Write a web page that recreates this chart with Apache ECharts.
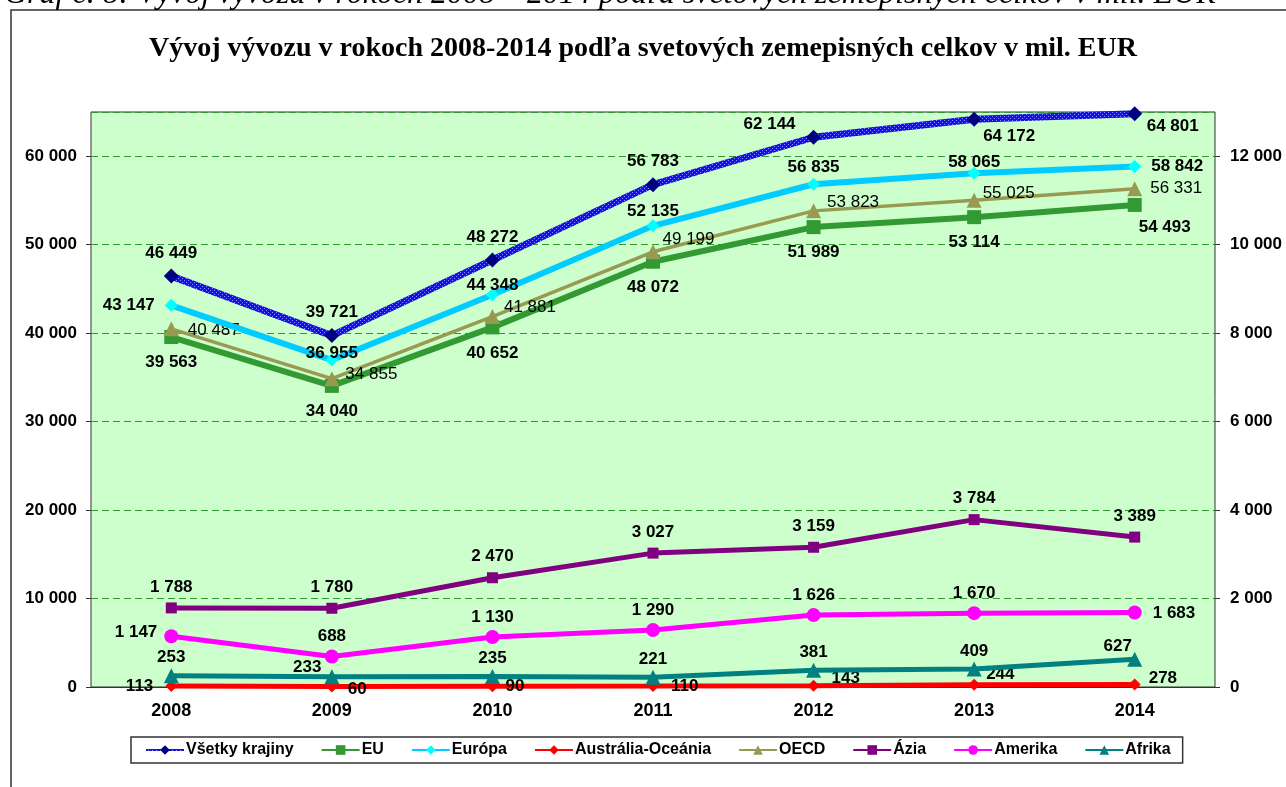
<!DOCTYPE html>
<html lang="sk">
<head>
<meta charset="utf-8" />
<title>Vývoj vývozu 2008-2014</title>
<script src="https://cdn.jsdelivr.net/npm/echarts@6/dist/echarts.min.js"></script>
<style>
  html, body { margin: 0; padding: 0; background: #fff; }
  #main { width: 1286px; height: 787px; }
</style>
</head>
<body>
<div id="main"></div>
<script>
    // údaje v mil. EUR
    var years = ['2008', '2009', '2010', '2011', '2012', '2013', '2014'];
    var vsetky = [46449, 39721, 48272, 56783, 62144, 64172, 64801];
    var eu = [39563, 34040, 40652, 48072, 51989, 53114, 54493];
    var europa = [43147, 36955, 44348, 52135, 56835, 58065, 58842];
    var australia = [113, 60, 90, 110, 143, 244, 278];
    var oecd = [40487, 34855, 41881, 49199, 53823, 55025, 56331];
    var azia = [1788, 1780, 2470, 3027, 3159, 3784, 3389];
    var amerika = [1147, 688, 1130, 1290, 1626, 1670, 1683];
    var afrika = [253, 233, 235, 221, 381, 409, 627];

    var leftTicks = [0, 10000, 20000, 30000, 40000, 50000, 60000];
    var rightTicks = [0, 2000, 4000, 6000, 8000, 10000, 12000];

    function fmt(v) {
        return String(v).replace(/\B(?=(\d{3})+(?!\d))/g, ' ');
    }

    // modrá čiara so vzorom (ako v Exceli)
    var pc = document.createElement('canvas');
    pc.width = 4; pc.height = 4;
    var c = pc.getContext('2d');
    c.fillStyle = '#1010F0'; c.fillRect(0, 0, 4, 4);
    c.fillStyle = '#8C8CFF'; c.fillRect(0, 0, 1, 1); c.fillRect(2, 2, 1, 1);

    function line(name, values, o) {
        var data = values.map(function (v, i) {
            var item = { value: v };
            if (o.labels && o.labels[i]) item.label = o.labels[i];
            return item;
        });
        return {
            name: name,
            type: 'line',
            yAxisIndex: o.axis || 0,
            data: data,
            symbol: o.symbol,
            symbolSize: o.size,
            itemStyle: { color: o.marker },
            lineStyle: { color: o.line, width: o.width },
            z: o.z || 2,
            label: {
                show: true,
                position: o.pos,
                distance: o.dist,
                formatter: function (p) { return fmt(p.value); },
                color: '#000',
                fontFamily: 'Liberation Sans, Arial, sans-serif',
                fontWeight: o.bold === false ? 'normal' : 'bold',
                fontSize: 17
            }
        };
    }

    var myChart = echarts.init(document.getElementById('main'));

    var option = {
        animation: false,
        backgroundColor: '#fff',
        graphic: [
            {
                type: 'rect', silent: true,
                shape: { x: 11, y: 10, width: 1300, height: 800 },
                style: { fill: 'none', stroke: '#333', lineWidth: 1.5 }
            },
            {
                type: 'text', silent: true, x: 4, y: 11,
                style: {
                    text: 'Graf č. 8: Vývoj vývozu v rokoch 2008 – 2014 podľa svetových zemepisných celkov v mil. EUR',
                    font: 'italic 32px "Liberation Serif", "Times New Roman", serif',
                    fill: '#000', verticalAlign: 'bottom'
                }
            }
        ],
        title: {
            text: 'Vývoj vývozu v rokoch 2008-2014 podľa svetových zemepisných celkov v mil. EUR',
            left: 'center',
            top: 30,
            textStyle: {
                fontFamily: 'Liberation Serif, Times New Roman, serif',
                fontWeight: 'bold',
                fontSize: 28,
                color: '#000'
            }
        },
        legend: {
            left: 131,
            top: 737,
            padding: [5, 12, 5, 14],
            itemGap: 27,
            itemWidth: 38,
            itemHeight: 12,
            borderColor: '#333',
            borderWidth: 1.5,
            textStyle: {
                fontFamily: 'Liberation Sans, Arial, sans-serif',
                fontWeight: 'bold',
                fontSize: 16,
                color: '#000',
                padding: [0, 0, 0, -3]
            }
        },
        grid: {
            left: 91, right: 71, top: 112, bottom: 100,
            containLabel: false,
            show: true,
            backgroundColor: '#CCFFCC',
            borderColor: '#333',
            borderWidth: 1
        },
        xAxis: {
            type: 'category',
            data: years,
            axisLine: { lineStyle: { color: '#333' } },
            axisTick: { length: 6, lineStyle: { color: '#333' } },
            axisLabel: {
                margin: 15,
                color: '#000',
                fontFamily: 'Liberation Sans, Arial, sans-serif',
                fontWeight: 'bold',
                fontSize: 18
            }
        },
        yAxis: [{
            type: 'value',
            min: leftTicks[0],
            max: 65000,
            interval: leftTicks[1] - leftTicks[0],
            axisLine: { show: false },
            axisTick: { show: true, length: 5, lineStyle: { color: '#333' } },
            axisLabel: {
                margin: 14,
                showMaxLabel: false,
                color: '#000',
                fontFamily: 'Liberation Sans, Arial, sans-serif',
                fontWeight: 'bold',
                fontSize: 17,
                formatter: function (v) { return leftTicks.indexOf(v) >= 0 ? fmt(v) : ''; }
            },
            splitLine: { lineStyle: { color: '#2E9A2E', type: [7, 4], width: 1 } }
        }, {
            type: 'value',
            min: rightTicks[0],
            max: 13000,
            interval: rightTicks[1] - rightTicks[0],
            axisLine: { show: false },
            axisTick: { show: true, length: 5, lineStyle: { color: '#333' } },
            axisLabel: {
                margin: 15,
                showMaxLabel: false,
                color: '#000',
                fontFamily: 'Liberation Sans, Arial, sans-serif',
                fontWeight: 'bold',
                fontSize: 17,
                formatter: function (v) { return rightTicks.indexOf(v) >= 0 ? fmt(v) : ''; }
            },
            splitLine: { show: false }
        }],
        series: [
            line('Všetky krajiny', vsetky, {
                symbol: 'diamond', size: 15, marker: '#000080',
                line: { image: pc, repeat: 'repeat' }, width: 7, z: 9,
                pos: 'top', dist: 7,
                labels: [null, null, null, null,
                    { offset: [-44, 10] },
                    { position: 'bottom', distance: 4, offset: [35, -3] },
                    { position: 'bottom', distance: 4, offset: [38, -7] }]
            }),
            line('EU', eu, {
                symbol: 'rect', size: 14, marker: '#339933', line: '#339933', width: 6, z: 5,
                pos: 'bottom', dist: 10,
                labels: [null, null, null, null, null, null, { offset: [30, -3] }]
            }),
            line('Európa', europa, {
                symbol: 'diamond', size: 13, marker: '#00FFFF', line: '#00CCFF', width: 6, z: 7,
                pos: 'top', dist: 0,
                labels: [{ position: 'left', distance: 10 },
                    { distance: -8 }, { distance: -6 }, { distance: -1 }, { distance: 2 }, { distance: -4 },
                    { position: 'right', distance: 10 }]
            }),
            line('Austrália-Oceánia', australia, {
                symbol: 'diamond', size: 12, marker: '#FF0000', line: '#FF0000', width: 5, z: 3,
                pos: 'right', dist: 10,
                labels: [{ position: 'left', distance: 12 },
                    { offset: [0, 3] }, { distance: 7 }, { distance: 12 },
                    { distance: 12, offset: [0, -7] }, { distance: 6, offset: [0, -11] },
                    { distance: 8, offset: [0, -6] }]
            }),
            line('OECD', oecd, {
                symbol: 'triangle', size: 15, marker: '#999A52', line: '#999A52', width: 3.5, z: 6,
                pos: 'right', dist: 6, bold: false,
                labels: [{ offset: [3, 1] }, { offset: [0, -4] }, { offset: [-2, -9] }, { offset: [-4, -12] },
                    { offset: [0, -9] }, { offset: [-5, -7] }, { offset: [2, 0] }]
            }),
            line('Ázia', azia, {
                axis: 1, symbol: 'rect', size: 11, marker: '#800080', line: '#800080', width: 5, z: 4,
                pos: 'top', dist: 7
            }),
            line('Amerika', amerika, {
                axis: 1, symbol: 'circle', size: 14, marker: '#FF00FF', line: '#FF00FF', width: 5, z: 4,
                pos: 'top', dist: 4.5,
                labels: [{ position: 'left', distance: 7, offset: [0, -4] }, null, null, null, null, null,
                    { position: 'right', distance: 11, offset: [0, 1] }]
            }),
            line('Afrika', afrika, {
                axis: 1, symbol: 'triangle', size: 15, marker: '#008080', line: '#008080', width: 5, z: 4,
                pos: 'top', dist: 2,
                labels: [null, { position: 'left', distance: 3, offset: [0, -9] }, null, null, null, null,
                    { offset: [-17, 5] }]
            })
        ]
    };

    myChart.setOption(option);
</script>
</body>
</html>
